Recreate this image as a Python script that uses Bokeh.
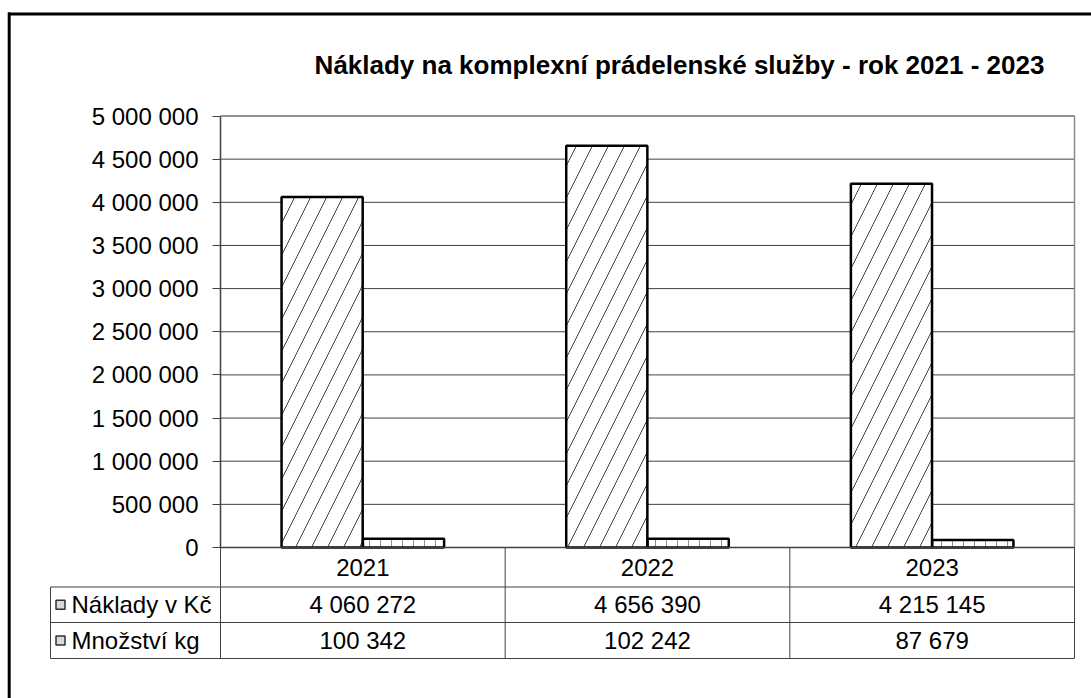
from bokeh.plotting import figure
from bokeh.models import Range1d, FixedTicker, LinearAxis, ColumnDataSource
from bokeh.embed import file_html
from bokeh.resources import INLINE
from bokeh.core.properties import value

# ---------------- data ----------------
title_text = "Náklady na komplexní prádelenské služby - rok 2021 - 2023"
years = ["2021", "2022", "2023"]
series_names = ["Náklady v Kč", "Množství kg"]
costs = [4060272, 4656390, 4215145]
quantity = [100342, 102242, 87679]
y_ticks = [0, 500000, 1000000, 1500000, 2000000, 2500000, 3000000,
           3500000, 4000000, 4500000, 5000000]


def fmt(v):
    return f"{v:,}".replace(",", " ")


# ---------------- layout constants (canvas pixels) ----------------
W, H = 1091, 698
PX_LEFT, PX_RIGHT = 220, 1074          # plot area left / right
PX_TOP, PX_ZERO = 115.5, 547           # plot area top / value 0
TABLE_LEFT = 50                        # left edge of the legend column
ROW_EDGES = [547, 586.5, 622, 658]     # table horizontal lines (top to bottom)

FONT = "Liberation Sans"
FS = "24px"
GRID = "#404040"

n = len(years)
idx = list(range(n))
YMAX = y_ticks[-1]
xs = (PX_RIGHT - PX_LEFT) / n
ys = (PX_ZERO - PX_TOP) / YMAX

bar_w = 0.285
off = 0.143

p = figure(width=W, height=H,
           x_range=Range1d(-PX_LEFT / xs, (W - PX_LEFT) / xs),
           y_range=Range1d(-(H - PX_ZERO) / ys, YMAX + PX_TOP / ys),
           x_axis_type=None, y_axis_type=None, output_backend="svg",
           toolbar_location=None, min_border=0)
p.min_border_left = p.min_border_right = p.min_border_top = p.min_border_bottom = 0
p.outline_line_color = None
p.background_fill_color = "white"
p.border_fill_color = "white"
p.grid.visible = False
p.extra_x_ranges = {"px": Range1d(0, W)}
p.extra_y_ranges = {"px": Range1d(H, 0)}

# gridlines (dark) from tick values across the plot area
p.segment(x0=[0] * len(y_ticks), x1=[n] * len(y_ticks), y0=y_ticks, y1=y_ticks,
          line_color=GRID, line_width=1)
# plot-area border, top and right (gray)
p.segment(x0=[0, n], x1=[n, n], y0=[YMAX, 0], y1=[YMAX, YMAX],
          line_color="#8c8c8c", line_width=1.5)

# y axis fixed at x = 0
ax = LinearAxis(fixed_location=0, bounds=(0, YMAX), ticker=FixedTicker(ticks=y_ticks))
ax.major_label_overrides = {t: fmt(t) for t in y_ticks}
ax.major_label_text_font = FONT
ax.major_label_text_font_size = FS
ax.major_label_text_color = "black"
ax.major_tick_out = 8
ax.major_tick_in = 0
ax.minor_tick_out = 0
ax.minor_tick_in = 0
ax.major_tick_line_color = GRID
ax.major_tick_line_width = 1
ax.axis_line_color = GRID
ax.axis_line_width = 1.5
ax.major_label_standoff = 14
p.add_layout(ax, "left")

# bars
src = ColumnDataSource(dict(
    x_cost=[i + 0.5 - off for i in idx],
    x_qty=[i + 0.5 + off for i in idx],
    cost=costs,
    qty=quantity,
))
p.vbar(x="x_cost", top="cost", bottom=0, width=bar_w, source=src,
       fill_color="white", line_color="black", line_width=2.5,
       hatch_pattern="/", hatch_scale=32, hatch_color="#404040", hatch_weight=1)
p.vbar(x="x_qty", top="qty", bottom=0, width=bar_w, source=src,
       fill_color="white", line_color="black", line_width=2.5,
       hatch_pattern="|", hatch_scale=11, hatch_color="#909090", hatch_weight=1)

# ---------------- data table ----------------
label_left = (TABLE_LEFT - PX_LEFT) / xs
# x axis / top table line
p.segment(x0=[0], x1=[n], y0=[0], y1=[0], line_color=GRID, line_width=1.5)
# other horizontal lines
hr = ROW_EDGES[1:]
p.segment(x0=[label_left] * len(hr), x1=[n] * len(hr), y0=hr, y1=hr,
          y_range_name="px", line_color=GRID, line_width=1)
# vertical lines
vx = idx + [n]
p.segment(x0=vx, x1=vx, y0=[ROW_EDGES[0]] * len(vx), y1=[ROW_EDGES[-1]] * len(vx),
          y_range_name="px", line_color=GRID, line_width=1)
p.segment(x0=[label_left], x1=[label_left], y0=[ROW_EDGES[1]], y1=[ROW_EDGES[-1]],
          y_range_name="px", line_color=GRID, line_width=1)

row_mid = [(ROW_EDGES[k] + ROW_EDGES[k + 1]) / 2 for k in range(3)]
cx = [i + 0.5 for i in idx]
txt = dict(text_font=value(FONT), text_font_size=FS, text_color="black",
           text_baseline="middle", y_range_name="px")
p.text(x=cx, y=[row_mid[0]] * n, text=years, text_align="center", **txt)
p.text(x=cx, y=[row_mid[1]] * n, text=[fmt(v) for v in costs], text_align="center", **txt)
p.text(x=cx, y=[row_mid[2]] * n, text=[fmt(v) for v in quantity], text_align="center", **txt)

key_px = TABLE_LEFT + 10
p.scatter(x=[key_px] * 2, y=row_mid[1:], marker="square", size=9,
          fill_color="#d9d9d9", line_color="#303030", line_width=1.5,
          x_range_name="px", y_range_name="px")
p.text(x=[key_px + 11] * 2, y=row_mid[1:], text=series_names, text_align="left",
       x_range_name="px", **txt)

# ---------------- title and outer frame ----------------
p.text(x=[679], y=[64], text=[title_text], text_align="center",
       text_baseline="alphabetic", text_font=value(FONT), text_font_size="26px",
       text_font_style="bold", text_color="black",
       x_range_name="px", y_range_name="px")
p.segment(x0=[7.5, 8.7], x1=[W, 8.7], y0=[13.5, 12], y1=[13.5, H],
          x_range_name="px", y_range_name="px", line_color="black", line_width=3)

open("out.html", "w").write(file_html(p, INLINE))
